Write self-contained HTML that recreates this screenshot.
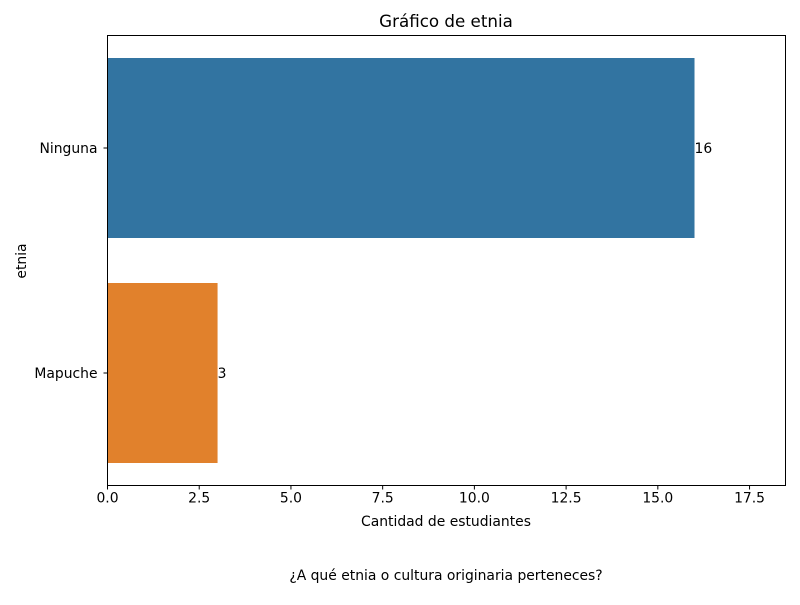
<!DOCTYPE html>
<html><head><meta charset="utf-8"><style>body{margin:0;background:#fff}svg{font-family:"DejaVu Sans","Liberation Sans",sans-serif}</style></head>
<body>
<svg id="chart" width="800" height="600" viewBox="0 0 800 600" xmlns="http://www.w3.org/2000/svg">
<rect width="800" height="600" fill="#fff"/>
<text x="446" y="27" text-anchor="middle" font-size="16.7">Gráfico de etnia</text>
<g id="bars"></g>
<g id="xticks"></g>
<g id="yticks"></g>
<rect x="107.5" y="35.5" width="678" height="450" fill="none" stroke="#000" stroke-width="1"/>
<text x="446" y="526" text-anchor="middle" font-size="13.9">Cantidad de estudiantes</text>
<text x="26" y="261" text-anchor="middle" font-size="13.9" transform="rotate(-90 26 261)">etnia</text>
<text x="446" y="580" text-anchor="middle" font-size="13.9">¿A qué etnia o cultura originaria perteneces?</text>
</svg>
<script>
const categories = ["Ninguna", "Mapuche"];
const values = [16, 3];
const colors = ["#3274a1", "#e1812c"];
const xTicks = [0, 2.5, 5, 7.5, 10, 12.5, 15, 17.5];
const xTickLabels = ["0.0","2.5","5.0","7.5","10.0","12.5","15.0","17.5"];

const L=107.5,R=785.5,T=35.5,B=485.5,XMAX=18.48;
const ns="http://www.w3.org/2000/svg";
const x=v=>L+(v/XMAX)*(R-L);
const band=(B-T)/categories.length;
const yc=i=>T+band*(i+0.5);
function mk(t,a,p){const e=document.createElementNS(ns,t);for(const k in a)e.setAttribute(k,a[k]);p.appendChild(e);return e;}
const gb=document.getElementById('bars'),gx=document.getElementById('xticks'),gy=document.getElementById('yticks');
categories.forEach((c,i)=>{
  const h=band*0.8;
  const r=mk('rect',{x:x(0),y:yc(i)-h/2,width:x(values[i])-x(0),height:h,fill:colors[i]},gb);
  
  
  const t=mk('text',{x:x(values[i]),y:yc(i)+5,'font-size':13.9},gb);t.textContent=values[i];
  
  
  const tk=mk('line',{x1:L-4,x2:L,y1:yc(i),y2:yc(i),stroke:'#000'},gy);
  
  
  const tl=mk('text',{x:L-10,y:yc(i)+5,'text-anchor':'end','font-size':13.9},gy);tl.textContent=c;
  
  
});
xTicks.forEach((v,i)=>{
  const tk=mk('line',{x1:x(v),x2:x(v),y1:B,y2:B+4,stroke:'#000'},gx);
  
  
  const tl=mk('text',{x:x(v),y:B+17,'text-anchor':'middle','font-size':13.9},gx);tl.textContent=xTickLabels[i];
  
  
});
</script>
</body></html>
